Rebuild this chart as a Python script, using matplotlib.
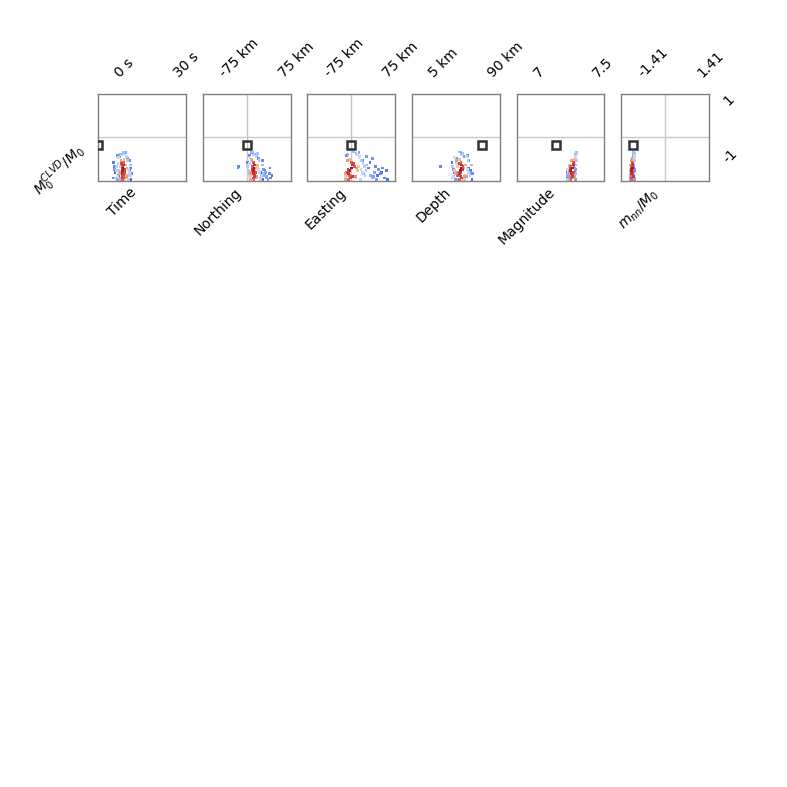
import matplotlib
matplotlib.use('Agg')
import matplotlib.pyplot as plt
import numpy as np

# ---- parameters / axes ----
par_labels = ['Time', 'Northing', 'Easting', 'Depth', 'Magnitude', r'$m_{nn}/M_0$']
par_lo = [0.0, -75.0, -75.0, 5.0, 7.0, -1.41]
par_hi = [30.0, 75.0, 75.0, 90.0, 7.5, 1.41]
tick_lo_labels = ['0 s', '-75 km', '-75 km', '5 km', '7', '-1.41']
tick_hi_labels = ['30 s', '75 km', '75 km', '90 km', '7.5', '1.41']
zero_vline = [False, True, True, False, False, True]
clvd_lo, clvd_hi = -1.0, 1.0
clvd_tick_labels = ['-1', '1']
clvd_label = r'$M_0^{CLVD}/M_0$'

# reference solution (open square)
ref_clvd = -0.26
ref_values = [-7.6, 0.0, 0.0, 85.0, 7.21, -1.54]

# ---- ensemble samples ----
sample_clvd = [-1.05, -1.15, -0.95, -1.25, -1.35, -1.10, -0.90, -1.40, -1.20, -1.00, -1.30, -0.85, -1.45,
               -1.20, -1.35, -0.80, -1.05, -1.45, -0.95, -1.25, -1.40, -0.75, -1.15, -1.30, -1.00, -1.48,
               -0.70, -1.10, -1.35, -0.65, -1.20, -0.90, -1.45, -0.60, -1.00, -1.30, -0.80, -1.15, -1.40, -0.55, -0.95, -1.25,
               -1.30, -1.40, -1.20, -1.45, -1.35, -1.10, -1.25, -1.05, -1.40, -1.15, -1.30, -1.45, -1.20, -1.00, -1.05,
               -0.50, -0.58, -0.52, -0.65, -0.72, -0.62, -0.78, -0.85]
sample_time = [5.3, 5.0, 5.6, 5.2, 4.8, 5.9, 4.6, 5.5, 6.2, 4.9, 5.7, 5.4, 5.0,
               3.9, 7.0, 4.3, 7.3, 3.5, 6.5, 4.1, 6.8, 5.8, 3.2, 7.6, 4.0, 6.0,
               3.0, 8.0, 2.5, 6.9, 8.5, 2.8, 8.2, 4.5, 1.8, 9.0, 7.8, 2.0, 1.5, 5.5, 9.2, 3.6,
               6.5, 4.0, 8.8, 2.2, 7.2, 1.0, 9.5, 5.0, 0.5, 8.6, 3.0, 9.0, 1.2, 0.8, 9.3,
               5.6, 4.2, 6.8, 3.8, 7.5, 2.5, 8.8, 0.6]
sample_north = [19, 18, 20, 17, 21, 16, 19, 18, 22, 15, 20, 17, 19,
                12, 25, 14, 23, 10, 27, 8, 26, 13, 21, 11, 28, 16,
                9, 30, 5, 24, 33, 7, 35, 18, 3, 38, 32, 6, 36, 28, 40, 42,
                45, 50, 48, 55, 52, 44, 58, 60, 62, 47, 65, 40, 35, -20, -22,
                15, 20, 12, 25, 30, 8, 40, 2]
sample_east = [0, -3, 2, -6, 4, -8, 6, -2, -10, 8, -4, 1, -7,
               -12, 10, -9, 14, -14, 5, -15, 12, -5, 16, -11, 18, -13,
               20, 25, -16, 22, 28, 30, 24, 15, 33, 35, 26, 38, -14, 12, 40, 32,
               50, 55, 60, 65, 58, 70, 75, 80, 85, 90, 68, 92, 78, 62, 45,
               5, -8, 20, 40, 55, -12, 30, 48]
sample_depth = [55, 54, 56, 53, 55, 57, 52, 56, 54, 58, 52, 55, 53,
                50, 60, 48, 59, 51, 62, 47, 58, 53, 46, 61, 50, 57,
                45, 64, 44, 63, 66, 48, 60, 56, 43, 68, 65, 46, 42, 58, 70, 52,
                62, 55, 67, 47, 63, 44, 72, 58, 42, 69, 50, 71, 45, 25, 66,
                52, 57, 55, 60, 48, 64, 66, 42]
sample_mag = [7.350, 7.338, 7.362, 7.345, 7.356, 7.334, 7.365, 7.342, 7.358, 7.336, 7.352, 7.360, 7.340,
              7.328, 7.372, 7.345, 7.366, 7.322, 7.375, 7.332, 7.362, 7.370, 7.326, 7.355, 7.340, 7.318,
              7.376, 7.312, 7.368, 7.380, 7.320, 7.374, 7.310, 7.382, 7.330, 7.372, 7.384, 7.316, 7.364, 7.386, 7.328, 7.378,
              7.308, 7.370, 7.314, 7.376, 7.324, 7.380, 7.312, 7.368, 7.306, 7.374, 7.320, 7.382, 7.310, 7.366, 7.372,
              7.386, 7.380, 7.390, 7.377, 7.383, 7.374, 7.388, 7.370]
sample_mnn = [-1.58, -1.62, -1.55, -1.60, -1.53, -1.63, -1.57, -1.60, -1.54, -1.61, -1.56, -1.59, -1.62,
              -1.64, -1.52, -1.60, -1.55, -1.66, -1.53, -1.63, -1.57, -1.51, -1.65, -1.58, -1.62, -1.66,
              -1.50, -1.67, -1.54, -1.49, -1.68, -1.52, -1.66, -1.48, -1.64, -1.51, -1.47, -1.69, -1.56, -1.48, -1.65, -1.50,
              -1.68, -1.49, -1.66, -1.47, -1.64, -1.46, -1.69, -1.50, -1.67, -1.48, -1.65, -1.46, -1.68, -1.52, -1.50,
              -1.53, -1.55, -1.50, -1.52, -1.56, -1.49, -1.54, -1.51]
sample_color = [1.00, 0.98, 0.96, 0.95, 0.94, 0.93, 0.92, 0.91, 0.90, 0.89, 0.88, 0.87, 0.86,
                0.78, 0.76, 0.75, 0.74, 0.72, 0.71, 0.70, 0.68, 0.67, 0.66, 0.64, 0.62, 0.60,
                0.45, 0.44, 0.43, 0.42, 0.41, 0.40, 0.39, 0.38, 0.37, 0.36, 0.35, 0.34, 0.33, 0.32, 0.31, 0.30,
                0.25, 0.23, 0.22, 0.20, 0.19, 0.18, 0.16, 0.15, 0.13, 0.12, 0.10, 0.08, 0.07, 0.14, 0.12,
                0.30, 0.25, 0.22, 0.20, 0.18, 0.16, 0.15, 0.12]

sample_params = [sample_time, sample_north, sample_east, sample_depth, sample_mag, sample_mnn]

fig = plt.figure(figsize=(7.87, 7.87), dpi=100)
fig.subplots_adjust(left=0.1245, right=0.901, top=0.8806, bottom=0.770, wspace=0.19)
axes = fig.subplots(1, 6)

order = np.argsort(sample_color)
yv = np.asarray(sample_clvd)[order]
cv = np.asarray(sample_color)[order]
ypad = 0.25 * (clvd_hi - clvd_lo)

for i, ax in enumerate(axes):
    lo, hi = par_lo[i], par_hi[i]
    pad = 0.25 * (hi - lo)
    ax.set_xlim(lo - pad, hi + pad)
    ax.set_ylim(clvd_lo - ypad, clvd_hi + ypad)

    ax.axhline(0, color='#c8c8c8', lw=1, zorder=0)
    if zero_vline[i]:
        ax.axvline(0, color='#c8c8c8', lw=1, zorder=0)

    xv = np.asarray(sample_params[i], dtype=float)[order]
    ax.scatter(xv, yv, c=cv, cmap='coolwarm', vmin=0, vmax=1, s=4, marker='s',
               linewidths=0, zorder=2)
    ax.plot([ref_values[i]], [ref_clvd], 's', ms=5.5, mfc='none', mec='#2e3436',
            mew=1.8, zorder=3)

    ax.xaxis.tick_top()
    ax.set_xticks([lo, hi])
    ax.set_xticklabels([tick_lo_labels[i], tick_hi_labels[i]], rotation=45,
                       ha='left', va='bottom', fontsize=10)
    ax.tick_params(axis='x', length=0, pad=10)

    ax.set_xlabel(par_labels[i], rotation=45, ha='right', va='top', fontsize=10)
    ax.xaxis.label.set_rotation_mode('default')
    ax.xaxis.set_label_coords(0.47, -0.05)

    for sp in ax.spines.values():
        sp.set_color('#808080')
        sp.set_linewidth(1)

    if i == len(axes) - 1:
        ax.yaxis.tick_right()
        ax.set_yticks([clvd_lo, clvd_hi])
        ax.set_yticklabels(clvd_tick_labels, rotation=45, ha='left', va='bottom', fontsize=10)
        ax.tick_params(axis='y', length=0, pad=8)
    else:
        ax.set_yticks([])

axes[0].set_ylabel(clvd_label, rotation=45, ha='right', va='top', fontsize=10)
axes[0].yaxis.label.set_rotation_mode('default')
axes[0].yaxis.set_label_coords(-0.09, 0.47)

fig.savefig('out.png', dpi=100)
